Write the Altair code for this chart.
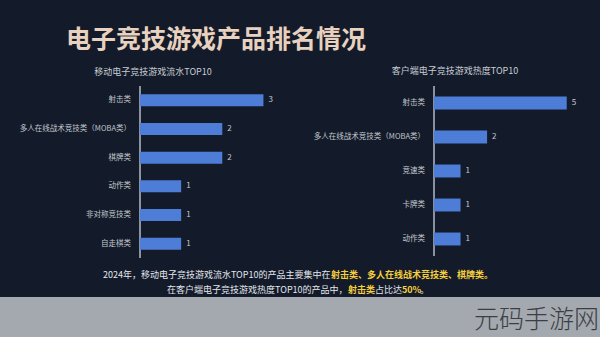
import altair as alt
import pandas as pd

# ---------------- data ----------------
TITLE = "电子竞技游戏产品排名情况"
LEFT_TITLE = "移动电子竞技游戏流水TOP10"
RIGHT_TITLE = "客户端电子竞技游戏热度TOP10"

left_cats = ["射击类", "多人在线战术竞技类（MOBA类）", "棋牌类", "动作类", "非对称竞技类", "自走棋类"]
left_vals = [3, 2, 2, 1, 1, 1]

right_cats = ["射击类", "多人在线战术竞技类（MOBA类）", "竞速类", "卡牌类", "动作类"]
right_vals = [5, 2, 1, 1, 1]

line1_texts = ["2024年，移动电子竞技游戏流水TOP10的产品主要集中在", "射击类、多人在线战术竞技类、棋牌类。"]
line1_hl = [False, True]
line2_texts = ["在客户端电子竞技游戏热度TOP10的产品中，", "射击类", "占比达", "50%", "。"]
line2_hl = [False, True, False, True, False]

WATERMARK = "元码手游网"

# ---------------- styles ----------------
FONT = "Noto Sans CJK SC"
BG = "#131b2a"
BAR = "#4d7dd6"
LABEL = "#c3c8cf"
YELLOW = "#f5cf3c"
W, H = 600, 337

left_df = pd.DataFrame({"cat": left_cats, "val": left_vals})
right_df = pd.DataFrame({"cat": right_cats, "val": right_vals})

xL = alt.Scale(domain=[0, 3.5], range=[140, 284])
yL = alt.Scale(domain=left_cats, range=[86, 258], paddingInner=0.58, paddingOuter=0.29)
xR = alt.Scale(domain=[0, 5.5], range=[434, 580])
yR = alt.Scale(domain=right_cats, range=[86, 256], paddingInner=0.62, paddingOuter=0.31)


def panel(df, xs, ys, y0, y1, title, tx, ty):
    base = alt.Chart(df)
    bars = base.mark_bar(color=BAR).encode(
        x=alt.X("val:Q", scale=xs, axis=None),
        y=alt.Y("cat:N", scale=ys, axis=None, sort=None),
    )
    vals = base.mark_text(align="left", baseline="middle", dx=5, font=FONT, fontSize=8, color=LABEL).encode(
        x=alt.X("val:Q", scale=xs, axis=None),
        y=alt.Y("cat:N", scale=ys, axis=None, sort=None),
        text="val:Q",
    )
    cats = base.mark_text(align="right", baseline="middle", dx=-9, font=FONT, fontSize=7.5, color=LABEL).encode(
        x=alt.XDatum(0, scale=xs, axis=None),
        y=alt.Y("cat:N", scale=ys, axis=None, sort=None),
        text="cat:N",
    )
    axis_line = base.mark_rule(color="#8d95a3", strokeWidth=1).encode(
        x=alt.XDatum(0, scale=xs, axis=None),
        y=alt.value(y0),
        y2=alt.value(y1),
    )
    ttl = alt.Chart(pd.DataFrame({"t": [title]})).mark_text(
        align="center", baseline="middle", font=FONT, fontSize=9, color="#c8ccd3"
    ).encode(x=alt.value(tx), y=alt.value(ty), text="t:N")
    return [axis_line, bars, vals, cats, ttl]


def est_w(s, fs):
    w = 0.0
    for ch in s:
        if ord(ch) > 0x2000:
            w += 1.0
        elif ch.isdigit():
            w += 0.56
        elif ch.isupper():
            w += 0.66
        elif ch == "%":
            w += 0.88
        else:
            w += 0.5
    return w * fs


FS_NOTE = 9
NOTE_CX = 298
rows = []
for texts, hls, ly in [(line1_texts, line1_hl, 275), (line2_texts, line2_hl, 290)]:
    widths = [est_w(t, FS_NOTE) for t in texts]
    x = NOTE_CX - sum(widths) / 2
    for t, hl, wdt in zip(texts, hls, widths):
        rows.append({"text": t, "x": x, "y": ly, "hl": hl})
        x += wdt
note_df = pd.DataFrame(rows)

note_plain = alt.Chart(note_df).transform_filter("!datum.hl").mark_text(
    align="left", baseline="middle", font=FONT, fontSize=FS_NOTE, color="#e4e6ea"
).encode(x=alt.X("x:Q", scale=None, axis=None), y=alt.Y("y:Q", scale=None, axis=None), text="text:N")
note_hl = alt.Chart(note_df).transform_filter("datum.hl").mark_text(
    align="left", baseline="middle", font=FONT, fontSize=FS_NOTE, fontWeight="bold", color=YELLOW
).encode(x=alt.X("x:Q", scale=None, axis=None), y=alt.Y("y:Q", scale=None, axis=None), text="text:N")

band = alt.Chart(pd.DataFrame({"a": [0]})).mark_rect(color="#a4a8af").encode(
    x=alt.value(0), x2=alt.value(W), y=alt.value(297), y2=alt.value(H)
)
wm = alt.Chart(pd.DataFrame({"t": [WATERMARK]})).mark_text(
    align="left", baseline="middle", font=FONT, fontSize=25, fontWeight=300, color="#3b3e44"
).encode(x=alt.value(474), y=alt.value(320), text="t:N")

main_title = alt.Chart(pd.DataFrame({"t": [TITLE]})).mark_text(
    align="left", baseline="middle", font=FONT, fontSize=25, fontWeight="bold", color="#e8d2bf"
).encode(x=alt.value(66), y=alt.value(40), text="t:N")

layers = [band, wm, main_title]
layers += panel(left_df, xL, yL, 86, 258, LEFT_TITLE, 153, 72)
layers += panel(right_df, xR, yR, 86, 256, RIGHT_TITLE, 455, 71)
layers += [note_plain, note_hl]

chart = alt.layer(*layers).resolve_scale(x="independent", y="independent").properties(
    width=W, height=H, background=BG, padding=0, autosize=alt.AutoSizeParams(type="none")
).configure_view(stroke=None)

chart.save("out.html", embed_options={"renderer": "svg", "actions": False})
